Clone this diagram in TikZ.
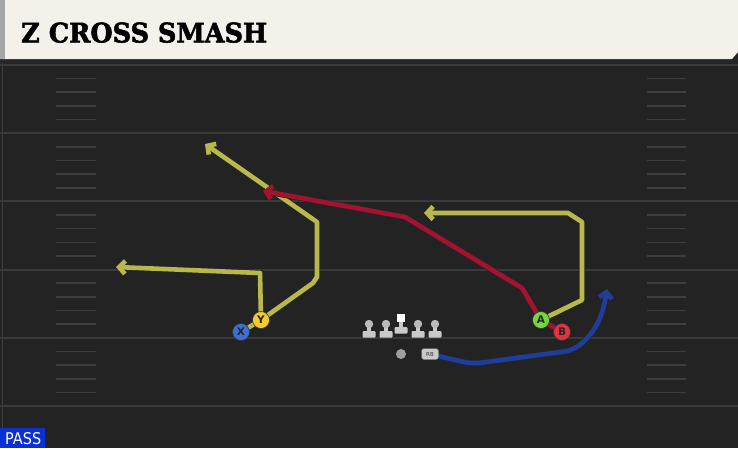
\documentclass[tikz,border=0pt]{standalone}
\usepackage{fontspec}
\setmainfont{DejaVu Serif}
\newfontfamily\titlefont{DejaVu Serif}[FakeBold=2]
\newfontfamily\labfont{DejaVu Sans}
\usetikzlibrary{arrows.meta}
\definecolor{fieldbg}{HTML}{232323}
\definecolor{titlebg}{HTML}{F4F1EA}
\definecolor{yardc}{HTML}{3A3A3A}
\definecolor{hashc}{HTML}{3E3E3E}
\definecolor{yelroute}{HTML}{B9B84C}
\definecolor{redroute}{HTML}{A5122F}
\definecolor{blueroute}{HTML}{1F3E9C}
\definecolor{xblue}{HTML}{3C70D6}
\definecolor{yyel}{HTML}{F3CC2C}
\definecolor{agreen}{HTML}{72D83C}
\definecolor{bred}{HTML}{E2323F}
\definecolor{passblue}{HTML}{0A2FD6}
\definecolor{linegray}{HTML}{C9C9C9}
\pgfdeclarelayer{field}
\pgfdeclarelayer{routes}
\pgfsetlayers{field,routes,main}
\begin{document}
\begin{tikzpicture}[x=1pt,y=-1pt,
  yard/.style={draw=yardc,line width=2pt},
  hash/.style={draw=hashc,line width=1.6pt},
  route/.style={line width=4.6pt,line join=round,
     preaction={draw=black!85,line width=6pt},
     -{Straight Barb[length=6pt,width=13pt]}},
  player/.style={circle,draw=black!80,line width=0.6pt,minimum size=17pt,inner sep=0pt,
     font=\labfont\bfseries\fontsize{10.5}{10.5}\selectfont,text=black!85},
  lineman/.style={fill=linegray}
]
\useasboundingbox (0,0) rectangle (738,448);
\begin{pgfonlayer}{field}
\fill[fieldbg] (0,0) rectangle (738,448);
\draw[draw=hashc,line width=1pt] (2,60) -- (2,448);
\foreach \yy in {65,133.2,201.4,269.6,337.8,406} {\draw[yard] (0,\yy) -- (738,\yy);}
\foreach \k in {1,...,24} {
  \pgfmathtruncatemacro{\m}{mod(\k,5)}
  \ifnum\m=0\else
    \pgfmathsetmacro{\yy}{65+13.64*\k}
    \draw[hash] (56,\yy) -- (96,\yy);
    \draw[hash] (647,\yy) -- (686,\yy);
  \fi}
\fill[black!85] (0,58) rectangle (738,63);
\fill[titlebg] (0,0) -- (738,0) -- (738,52) -- (732,59) -- (0,59) -- cycle;
\fill[gray!70] (0,0) rectangle (5,59);
\fill[passblue] (0,428) rectangle (45,448);
\end{pgfonlayer}
\node[anchor=south west,inner sep=0pt] (title) at (21,43) {\resizebox{246pt}{20pt}{\titlefont\bfseries Z CROSS SMASH}};
\node[anchor=south west,inner sep=0pt,text=white] (pass) at (5,445) {\resizebox{36pt}{12pt}{\labfont PASS}};
% offensive line
\foreach \xx/\nm in {369/lt,386/lg,418/rg,435/rt} {
  \fill[lineman,rounded corners=1pt] (\xx-6.5,331) rectangle (\xx+6.5,337.5);
  \fill[lineman] (\xx-2.2,324) rectangle (\xx+2.2,332);
  \fill[linegray!80!gray] (\xx,324) circle (4.2);
  \coordinate (\nm) at (\xx,330);
}
\fill[lineman,rounded corners=1pt] (394.5,327) rectangle (407.5,333.5);
\fill[lineman] (398.8,320) rectangle (403.2,328);
\node[fill=white,minimum size=8pt,inner sep=0pt] (C) at (401,318) {};
\node[circle,fill=gray!75,minimum size=10pt,inner sep=0pt] (QB) at (401,354) {};
\node[fill=linegray,draw=black!60,rounded corners=2.5pt,minimum width=17pt,minimum height=11pt,inner sep=0pt,
  font=\labfont\fontsize{5.5}{5.5}\selectfont,text=black!80] (RB) at (430,354) {RB};
% receivers
\node[player,fill=xblue] (X) at (241,332) {X};
\node[player,fill=yyel] (Y) at (261,320) {Y};
\node[player,fill=agreen] (A) at (541,320) {A};
\node[player,fill=bred] (B) at (562,332) {B};
\begin{pgfonlayer}{routes}
\draw[route,draw=yelroute] (X.center) -- (Y.center) -- (313,283) -- (317,277) -- (317,222) -- (205,144);
\draw[route,draw=yelroute] (Y.center) -- (260,273) -- (116,267);
\draw[route,draw=redroute] (B.center) -- (A.center) -- (522,288) -- (405,217) -- (263,191);
\draw[route,draw=yelroute] (A.center) -- (582,300) -- (582,222) -- (568,213) -- (424,213);
\draw[route,draw=blueroute,rounded corners=10pt] (RB.center) -- (472,364) -- (575,350) -- (595,330) -- (604,308) -- (607,289);
\end{pgfonlayer}
\end{tikzpicture}
\end{document}
